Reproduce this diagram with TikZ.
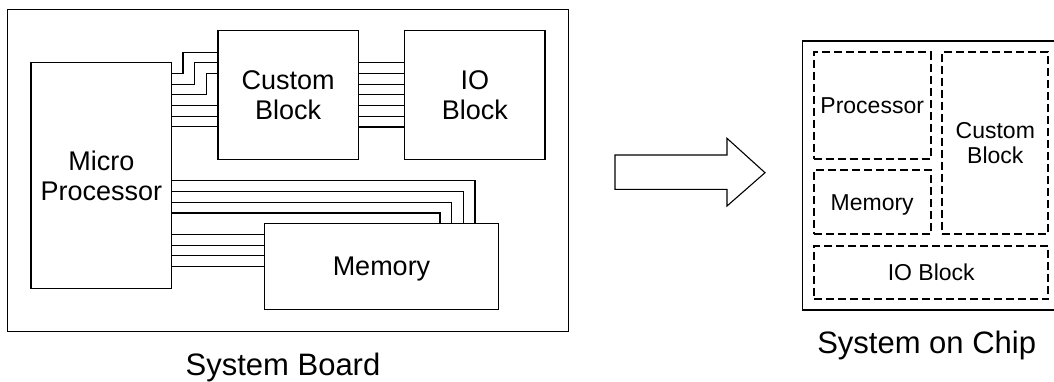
\documentclass[tikz,border=0pt]{standalone}
\usepackage{fontspec}
\setmainfont{Liberation Sans}
\usepackage{tikz}
\usetikzlibrary{positioning, calc}

\begin{document}
\begin{tikzpicture}[x=1pt, y=-1pt, line join=miter]

% Define block styles
\tikzstyle{block} = [draw, rectangle, line width=1.3pt, outer sep=0pt, inner sep=0pt, align=center, text depth=0pt, font=\fontsize{27}{30}\selectfont]
\tikzstyle{part} = [draw, rectangle, line width=2pt, dash pattern=on 8pt off 4pt, outer sep=0pt, inner sep=0pt, align=center, text depth=0pt, font=\fontsize{23}{25}\selectfont]
\tikzstyle{frame} = [draw, rectangle, line width=1.2pt, outer sep=0pt, inner sep=0pt]
\tikzstyle{caption} = [anchor=base, font=\fontsize{31}{36}\selectfont]
\tikzstyle{wire} = [line width=1.1pt]
\tikzstyle{hollow} = [draw, line width=1.1pt]
\def\p{10.7} % wire pitch

\useasboundingbox (0,0) rectangle (1054,381);

% Nodes: system board
\node [frame, minimum width=561.4pt, minimum height=322pt] (board) at (288,170.7) {};
\node [block, minimum width=140.4pt, minimum height=225.6pt] (mp) at (101.3,175.5) {Micro\\Processor};
\node [block, minimum width=140.3pt, minimum height=128.6pt] (cust) at (288.2,95) {Custom\\Block};
\node [block, minimum width=140.5pt, minimum height=128.6pt] (io) at (474.8,95) {IO\\Block};
\node [block, minimum width=233.6pt, minimum height=85.6pt] (mem) at (381.5,266.5) {Memory};
\node [caption] (boardcap) at (283,375) {System Board};

% Nodes: system on chip
\node [frame, minimum width=259.7pt, minimum height=269pt] (soc) at (932.2,175.5) {}; % right edge runs off the page
\node [part, minimum width=117pt, minimum height=106.7pt] (sproc) at (872.2,105.7) {Processor};
\node [part, minimum width=117pt, minimum height=64.3pt] (smem) at (872.2,202.2) {Memory};
\node [part, minimum width=106pt, minimum height=182pt] (scust) at (995.3,143.3) {Custom\\Block};
\node [part, minimum width=234.3pt, minimum height=53.6pt] (sio) at (931.2,272.5) {IO Block};
\node [caption] (soccap) at (926.7,353.3) {System on Chip};

% Connections
\foreach \k/\dx in {1/11.5, 2/23.3, 3/35}
  \draw [wire] ($(mp.north east)+(0,\k*\p)$) -- ++(\dx,0) |- ($(cust.north west)+(0,\k*\p+\p)$); % stepped wires
\foreach \k in {4,5,6} {
  \coordinate (mp\k) at ($(mp.north east)+(0,\k*\p)$);
  \draw [wire] (mp\k) -- (mp\k -| cust.west);
}
\foreach \k in {3,...,9} {
  \coordinate (cu\k) at ($(cust.north east)+(0,\k*\p)$);
  \draw [wire] (cu\k) -- (cu\k -| io.west);
}
\foreach \i in {1,...,4} {
  \coordinate (bend\i) at ($(mem.north east)+({-70+11.67*\i},{-\i*\p})$);
  \draw [wire] (bend\i -| mp.east) -| (bend\i |- mem.north); % over the top of memory
}
\foreach \j in {1,...,4} {
  \coordinate (me\j) at ($(mem.north west)+(0,\j*\p)$);
  \draw [wire] (me\j -| mp.east) -- (me\j);
}

% Big hollow arrow
\draw [hollow] (615,155) -- (727,155) -- (727,138.3) -- (765,172.7) -- (727,206) -- (727,189.3) -- (615,189.3) -- cycle;

\end{tikzpicture}
\end{document}
